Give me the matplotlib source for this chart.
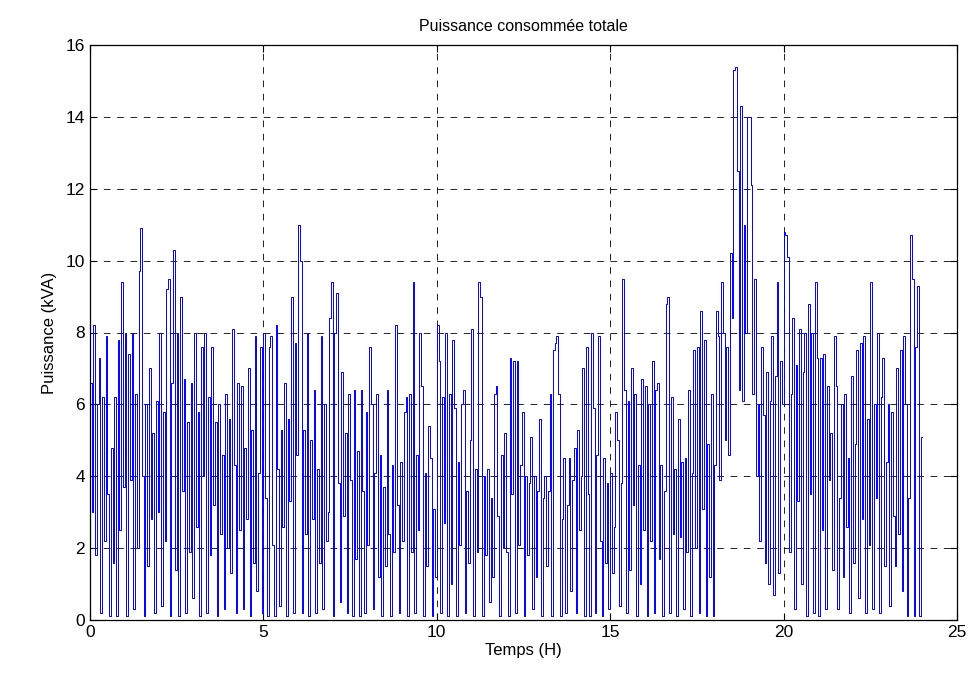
import numpy as np
import matplotlib
matplotlib.use("Agg")
import matplotlib.pyplot as plt

plt.rcParams['font.family'] = ['Liberation Sans', 'DejaVu Sans']

dt_hours = 0.05
power_kva = [
    # hour 0
    6.6, 3.0, 8.2, 1.8, 6.0, 7.3, 0.2, 6.2, 2.2, 7.9, 3.5, 0.1, 4.8, 1.6, 6.2, 0.1, 7.8, 2.5, 9.4, 3.7,
    # hour 1
    8.0, 0.1, 7.4, 3.9, 8.0, 0.3, 6.3, 2.0, 9.7, 10.9, 4.0, 0.1, 6.0, 1.5, 7.0, 2.8, 5.2, 0.2, 6.1, 3.0,
    # hour 2
    8.0, 0.4, 5.8, 2.2, 9.2, 9.5, 0.1, 6.6, 10.3, 1.4, 8.0, 0.1, 9.0, 3.6, 6.7, 0.2, 5.5, 1.9, 6.6, 0.6,
    # hour 3
    8.0, 2.6, 5.8, 0.1, 7.6, 4.0, 8.0, 0.2, 6.2, 1.8, 7.6, 3.2, 5.5, 0.1, 6.0, 2.4, 4.6, 0.3, 6.3, 2.0,
    # hour 4
    5.6, 1.3, 8.1, 4.3, 0.2, 6.6, 2.5, 6.5, 0.3, 4.8, 2.8, 7.0, 0.1, 5.3, 1.6, 7.9, 0.8, 4.1, 7.6, 0.2,
    # hour 5
    8.0, 3.4, 0.1, 7.6, 7.9, 2.1, 0.1, 8.2, 4.2, 0.4, 5.3, 2.6, 6.6, 0.1, 5.6, 3.3, 9.0, 0.2, 7.7, 4.6,
    # hour 6
    11.0, 10.0, 0.2, 5.3, 2.4, 8.0, 0.1, 5.0, 2.8, 6.4, 0.2, 4.2, 1.6, 7.9, 0.3, 6.0, 2.2, 3.0, 8.4, 9.4,
    # hour 7
    0.1, 8.0, 9.1, 3.8, 0.5, 6.9, 2.9, 5.2, 0.2, 6.3, 3.9, 0.1, 6.4, 1.7, 4.7, 0.1, 6.4, 3.6, 0.2, 5.8,
    # hour 8
    2.1, 7.6, 6.0, 0.3, 4.1, 6.3, 1.2, 4.6, 0.1, 3.7, 1.5, 6.4, 2.4, 0.1, 4.3, 1.9, 8.2, 3.2, 0.2, 4.4,
    # hour 9
    2.2, 5.8, 6.2, 0.1, 6.3, 1.9, 9.4, 0.2, 4.6, 2.5, 8.0, 6.5, 0.1, 4.1, 1.5, 5.4, 4.5, 0.1, 3.1, 1.2,
    # hour 10
    8.2, 7.2, 0.2, 6.2, 2.7, 8.0, 0.1, 6.3, 1.0, 7.8, 5.9, 0.1, 4.4, 2.1, 6.0, 6.4, 0.2, 3.6, 1.6, 5.0,
    # hour 11
    8.1, 0.1, 4.2, 1.9, 9.4, 9.0, 0.1, 4.0, 1.8, 4.2, 0.5, 3.4, 1.2, 6.3, 6.5, 2.9, 0.1, 4.6, 2.0, 5.2,
    # hour 12
    1.9, 0.1, 7.3, 3.5, 7.2, 0.2, 7.2, 2.1, 4.3, 5.8, 0.1, 4.0, 1.8, 3.8, 5.1, 0.3, 4.0, 1.2, 3.6, 5.6,
    # hour 13
    0.1, 3.4, 4.0, 1.5, 3.6, 6.3, 0.1, 7.5, 7.7, 7.9, 6.3, 0.1, 2.8, 4.5, 0.2, 3.2, 4.5, 0.8, 3.9, 4.8,
    # hour 14
    0.2, 5.3, 2.5, 4.0, 7.0, 0.1, 7.6, 3.5, 0.1, 8.0, 5.9, 0.2, 4.6, 7.9, 2.2, 0.1, 4.5, 1.6, 3.8, 0.3,
    # hour 15
    4.1, 1.3, 2.6, 5.8, 5.0, 0.4, 3.8, 9.5, 6.4, 0.2, 6.1, 1.4, 7.0, 3.2, 6.3, 0.1, 4.3, 1.0, 6.7, 2.5,
    # hour 16
    6.5, 0.1, 6.0, 2.2, 7.2, 0.2, 6.4, 6.6, 1.7, 4.3, 0.1, 3.6, 8.8, 9.0, 0.2, 6.2, 2.4, 4.2, 0.1, 5.6,
    # hour 17
    2.3, 4.4, 0.3, 4.5, 1.9, 6.4, 0.1, 4.1, 7.5, 2.0, 7.6, 0.2, 8.6, 3.1, 7.8, 0.1, 4.9, 1.2, 6.3, 0.1,
    # hour 18
    4.3, 8.6, 7.9, 3.9, 9.4, 8.0, 5.0, 7.6, 4.6, 10.2, 8.4, 15.3, 15.4, 12.5, 6.4, 14.3, 6.1, 11.0, 8.0, 14.0,
    # hour 19
    14.0, 12.1, 6.3, 9.5, 4.0, 6.0, 2.2, 7.6, 5.7, 1.6, 6.9, 1.0, 6.1, 7.9, 0.7, 6.8, 9.4, 1.3, 7.2, 6.0,
    # hour 20
    10.8, 10.7, 10.1, 1.9, 6.3, 8.4, 0.3, 7.1, 3.3, 8.1, 1.0, 6.9, 8.0, 0.1, 8.8, 3.5, 8.0, 0.2, 9.4, 7.3,
    # hour 21
    0.1, 7.3, 2.5, 7.4, 0.3, 6.5, 3.9, 5.2, 1.4, 7.9, 6.5, 0.3, 3.4, 6.0, 1.2, 6.3, 2.6, 4.5, 0.2, 6.8,
    # hour 22
    1.6, 4.9, 7.5, 0.6, 7.7, 2.8, 7.9, 0.2, 5.6, 2.1, 9.4, 0.3, 6.0, 3.4, 8.0, 0.2, 6.2, 7.3, 1.5, 4.4,
    # hour 23
    6.0, 0.4, 5.8, 2.9, 1.5, 7.0, 2.4, 7.5, 0.8, 7.9, 6.0, 0.1, 3.4, 10.7, 9.5, 0.1, 7.6, 9.3, 0.1, 5.1,
]
x_ticks = [0, 5, 10, 15, 20, 25]
y_ticks = [0, 2, 4, 6, 8, 10, 12, 14, 16]

y = np.array(power_kva + [power_kva[-1]])
t = np.arange(len(y)) * dt_hours

fig = plt.figure(figsize=(9.73, 6.77), dpi=100)
ax = fig.add_axes([90/973, 57/677, (957-90)/973, (620-45)/677])
ax.step(t, y, where='post', color=(0, 0, 1), linewidth=0.7)

ax.set_xlim(0, 25)
ax.set_ylim(0, 16)
ax.set_xticks(x_ticks)
ax.set_yticks(y_ticks)
ax.grid(True, color='black', linestyle=(0, (8, 8)), linewidth=0.6)
ax.tick_params(direction='in', top=True, right=True, labelsize=12.5, length=5, width=0.8)
for s in ax.spines.values():
    s.set_linewidth(0.9)

ax.set_title('Puissance consommée totale', fontsize=11.5, pad=10)
ax.set_xlabel('Temps (H)', fontsize=12, labelpad=2)
ax.set_ylabel('Puissance (kVA)', fontsize=12, labelpad=6)

fig.savefig('out.png', dpi=100)
